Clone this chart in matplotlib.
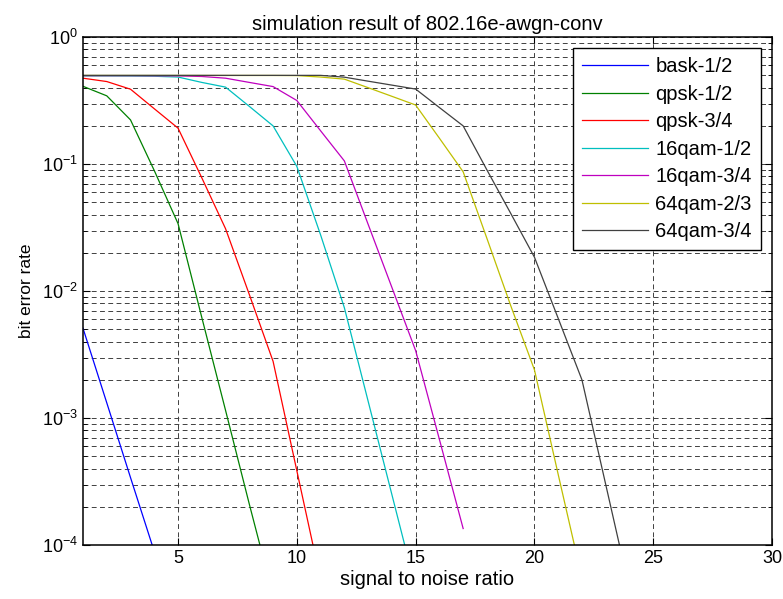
import matplotlib
matplotlib.use("Agg")
import matplotlib.pyplot as plt
from matplotlib.ticker import LogLocator, FixedLocator, NullFormatter

plt.rcParams['font.family'] = ['Liberation Sans', 'DejaVu Sans']
plt.rcParams['mathtext.default'] = 'regular'

# bit error rate, snr starts at 1 dB in 1 dB steps
bask_12 = [5.1e-3, 1.32e-3, 3.4e-4, 8.9e-5]
qpsk_12 = [0.41, 0.345, 0.223, 0.089, 0.034, 6.2e-3, 1.15e-3, 2.1e-4, 4.0e-5]
qpsk_34 = [0.475, 0.447, 0.389, 0.273, 0.192, 0.078, 0.031, 9.4e-3, 2.8e-3,
           3.85e-4, 5.3e-5]
qam16_12 = [0.495, 0.495, 0.494, 0.492, 0.485, 0.44, 0.404, 0.285, 0.2, 0.096,
            0.0277, 7.4e-3, 1.36e-3, 2.5e-4, 4.6e-5]
qam16_34 = [0.497, 0.497, 0.497, 0.496, 0.495, 0.49, 0.475, 0.44, 0.408, 0.317,
            0.183, 0.106, 0.0336, 0.0107, 3.4e-3, 6.8e-4, 1.35e-4]
qam64_23 = [0.499, 0.499, 0.499, 0.499, 0.499, 0.499, 0.499, 0.499, 0.499, 0.498,
            0.485, 0.467, 0.40, 0.342, 0.292, 0.16, 0.087, 0.026, 7.7e-3, 2.4e-3,
            3.6e-4, 5.5e-5]
qam64_34 = [0.5, 0.5, 0.5, 0.5, 0.5, 0.5, 0.5, 0.5, 0.5, 0.5,
            0.5, 0.484, 0.45, 0.419, 0.39, 0.279, 0.2, 0.090, 0.041, 0.0185,
            6.1e-3, 2.0e-3, 3.0e-4, 4.5e-5]

series = [bask_12, qpsk_12, qpsk_34, qam16_12, qam16_34, qam64_23, qam64_34]
labels = ["bask-1/2", "qpsk-1/2", "qpsk-3/4", "16qam-1/2", "16qam-3/4",
          "64qam-2/3", "64qam-3/4"]
colors = [(0, 0, 1), (0, 0.5, 0), (1, 0, 0), (0, 0.75, 0.75), (0.75, 0, 0.75),
          (0.75, 0.75, 0), (0.25, 0.25, 0.25)]
xticks = [5, 10, 15, 20, 25, 30]

fig = plt.figure(figsize=(7.83, 5.99), dpi=100)
ax = fig.add_axes([0.106, 0.09, 0.880, 0.848])

for ber, lab, col in zip(series, labels, colors):
    snr = list(range(1, len(ber) + 1))
    ax.semilogy(snr, ber, color=col, linewidth=0.9, label=lab)

ax.set_xlim(1, 30)
ax.set_ylim(1e-4, 1)
ax.xaxis.set_major_locator(FixedLocator(xticks))
ax.yaxis.set_major_locator(LogLocator(base=10, numticks=10))
ax.yaxis.set_minor_locator(LogLocator(base=10, subs=range(2, 10), numticks=20))
ax.yaxis.set_minor_formatter(NullFormatter())

grid_kw = dict(color='0.25', linestyle=(0, (5, 3.5)), linewidth=0.7)
ax.grid(True, which='major', axis='both', **grid_kw)
ax.grid(True, which='minor', axis='y', **grid_kw)
ax.set_axisbelow(True)

ax.tick_params(which='both', direction='in', top=True, right=True,
               labelsize=13, colors='black')
ax.tick_params(which='major', length=5)
ax.tick_params(which='minor', length=3)
for sp in ax.spines.values():
    sp.set_linewidth(1.1)

ax.set_title("simulation result of 802.16e-awgn-conv", fontsize=14.5, pad=5)
ax.set_xlabel("signal to noise ratio", fontsize=14.5, labelpad=2)
ax.set_ylabel("bit error rate", fontsize=12.5, labelpad=6)

leg = ax.legend(loc='upper right', fontsize=14.5, frameon=True, fancybox=False,
                framealpha=1, edgecolor='black', handlelength=3.3,
                labelspacing=0.42, borderaxespad=0.55, handletextpad=0.35,
                borderpad=0.45)
leg.get_frame().set_linewidth(1.0)

fig.savefig("out.png", dpi=100)
